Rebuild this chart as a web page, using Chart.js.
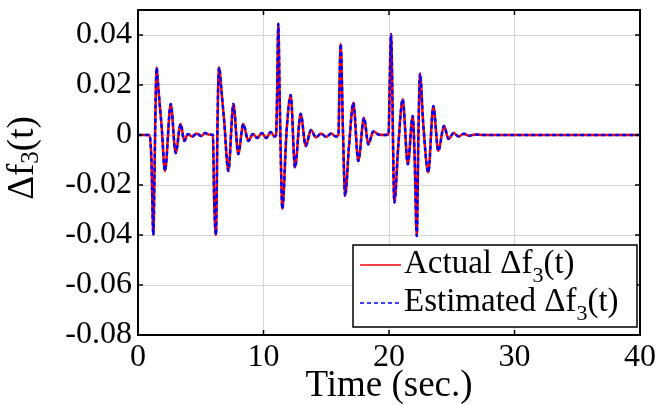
<!DOCTYPE html>
<html>
<head>
<meta charset="utf-8">
<script src="https://cdn.jsdelivr.net/npm/chart.js@4.4.1/dist/chart.umd.min.js"></script>
<style>
  html, body { margin: 0; padding: 0; background: #fff; }
  #wrap { width: 657px; height: 405px; }
</style>
</head>
<body>
<div id="wrap"><canvas id="myChart" width="657" height="405"></canvas></div>
<script>
// values
const timeSec = [
    0, 0.92, 1.07, 1.22, 1.33, 1.42, 1.49, 1.60, 1.89, 2.15, 2.61, 3.00, 3.40, 3.69, 3.98, 4.32, 4.68, 5.04, 5.34, 5.65,
    5.97, 6.07, 6.21, 6.34, 6.40, 6.48, 6.61, 6.86, 7.20, 7.60, 7.99, 8.39, 8.79, 9.15, 9.51, 9.86, 10.22, 10.57, 10.88,
    11.0, 11.08, 11.18, 11.29, 11.40, 11.50, 11.84, 12.17, 12.51, 12.96, 13.37, 13.78, 14.18, 14.59, 14.99, 15.40, 15.75,
    15.97, 16.05, 16.15, 16.33, 16.50, 16.82, 17.16, 17.55, 18.01, 18.35, 18.75, 19.16, 19.57,
    19.97, 20.05, 20.16, 20.43, 20.73, 21.09, 21.50, 21.89, 22.05, 22.21, 22.36, 22.47, 22.72, 23.13, 23.53, 23.93,
    24.38, 24.75, 25.15, 25.56, 25.96, 26.37, 26.88, 27.59, 40
]
const actualDf3 = [
    0, 0, -0.01, -0.04, -0.01, 0.018, 0.027, 0.02, 0.003, -0.0144, 0.0124, -0.0072, 0.0044, -0.0024, 0.0004, -0.0006, 0.0006, -0.0004, 0.0008, 0.0002,
    0, -0.026, -0.04, 0.006, 0.022, 0.027, 0.02, 0.006, -0.0144, 0.0124, -0.0076, 0.0044, -0.0024, 0.0004, -0.0012, 0.0008, -0.0012, 0.0012, -0.0006,
    0, 0.015, 0.0445, 0.015, -0.014, -0.0296, 0.0016, 0.016, -0.013, 0.0085, -0.0044, 0.002, -0.001, 0.0006, -0.0008, 0.0006, -0.0006,
    0, 0.019, 0.0365, 0.002, -0.0244, -0.004, 0.0129, -0.0104, 0.0069, -0.0037, 0.0014, 0.0002, 0,
    0.0003, 0.019, 0.0403, -0.027, -0.005, 0.0143, -0.0117, 0.0076, -0.01, -0.0404, 0.005, 0.0245, 0.005, -0.015, 0.0116, -0.0064,
    0.0036, -0.0016, 0.0008, -0.0006, 0.0005, -0.0003, 0.0002, 0, 0
]
// the estimate sits right on top of the actual signal
const estimatedDf3 = actualDf3.slice()

const xTickValues = [0, 10, 20, 30, 40]
const yTickValues = [-0.08, -0.06, -0.04, -0.02, 0, 0.02, 0.04]
const yTickLabels = ['-0.08', '-0.06', '-0.04', '-0.02', '0', '0.02', '0.04']

const SERIF = "'Liberation Serif', 'Times New Roman', serif"

function toPoints(xs, ys) {
    return xs.map((x, i) => ({ x: x, y: ys[i] }))
}

// draws text like "Actual Δf_3(t)" with the char after "_" as a subscript
function drawSubText(ctx, text, x, y, size, subSize, subDrop, measureOnly) {
    const parts = text.split('_')
    let cx = x
    ctx.font = size + 'px ' + SERIF
    if (!measureOnly) ctx.fillText(parts[0], cx, y)
    cx += ctx.measureText(parts[0]).width
    if (parts.length > 1) {
        const sub = parts[1].charAt(0)
        const rest = parts[1].slice(1)
        ctx.font = subSize + 'px ' + SERIF
        if (!measureOnly) ctx.fillText(sub, cx, y + subDrop)
        cx += ctx.measureText(sub).width
        ctx.font = size + 'px ' + SERIF
        if (!measureOnly) ctx.fillText(rest, cx, y)
        cx += ctx.measureText(rest).width
    }
    return cx - x
}

function noPadding(scale) {
    scale.paddingTop = 0
    scale.paddingBottom = 0
    scale.paddingLeft = 0
    scale.paddingRight = 0
}

const framePlugin = {
    id: 'frame',
    afterDatasetsDraw(chart) {
        const { ctx, chartArea: a, scales } = chart
        ctx.save()
        ctx.strokeStyle = '#000'
        ctx.lineWidth = 2
        ctx.strokeRect(a.left, a.top, a.right - a.left, a.bottom - a.top)
        ctx.lineWidth = 1.5
        ctx.beginPath()
        xTickValues.forEach(v => {
            const px = scales.x.getPixelForValue(v)
            ctx.moveTo(px, a.bottom); ctx.lineTo(px, a.bottom - 5)
            ctx.moveTo(px, a.top); ctx.lineTo(px, a.top + 5)
        })
        yTickValues.forEach(v => {
            const py = scales.y.getPixelForValue(v)
            ctx.moveTo(a.left, py); ctx.lineTo(a.left + 5, py)
            ctx.moveTo(a.right, py); ctx.lineTo(a.right - 5, py)
        })
        ctx.stroke()
        ctx.restore()
    }
}

const yTitlePlugin = {
    id: 'yTitle',
    afterDraw(chart) {
        const { ctx } = chart
        const text = 'Δf_3(t)'
        ctx.save()
        ctx.fillStyle = '#000'
        ctx.textBaseline = 'alphabetic'
        ctx.textAlign = 'left'
        ctx.translate(33, 158)
        ctx.rotate(-Math.PI / 2)
        const w = drawSubText(ctx, text, 0, 0, 37, 25, 5, true)
        drawSubText(ctx, text, -w / 2, 0, 37, 25, 5, false)
        ctx.restore()
    }
}

const boxLegendPlugin = {
    id: 'boxLegend',
    afterDraw(chart) {
        const { ctx } = chart
        const left = 353, top = 245, right = 637, bottom = 327
        ctx.save()
        ctx.fillStyle = '#fff'
        ctx.fillRect(left, top, right - left, bottom - top)
        ctx.strokeStyle = '#000'
        ctx.lineWidth = 1.5
        ctx.strokeRect(left, top, right - left, bottom - top)
        const rows = [273, 311]
        chart.data.datasets.forEach((ds, i) => {
            const base = rows[i]
            ctx.beginPath()
            ctx.strokeStyle = ds.borderColor
            ctx.lineWidth = 1.5
            ctx.setLineDash(ds.borderDash || [])
            ctx.moveTo(360, base - 8)
            ctx.lineTo(401, base - 8)
            ctx.stroke()
            ctx.setLineDash([])
            ctx.fillStyle = '#000'
            ctx.textBaseline = 'alphabetic'
            ctx.textAlign = 'left'
            drawSubText(ctx, ds.label, 404, base, 33, 22, 9, false)
        })
        ctx.restore()
    }
}

const ctx = document.getElementById('myChart')
const chartInstance = new Chart(ctx, {
    type: 'line',
    data: {
        datasets: [
            {
                label: 'Actual Δf_3(t)',
                data: toPoints(timeSec, actualDf3),
                borderColor: '#ff0000',
                borderWidth: 2.5,
                pointRadius: 0,
                cubicInterpolationMode: 'monotone',
                order: 1
            },
            {
                label: 'Estimated Δf_3(t)',
                data: toPoints(timeSec, estimatedDf3),
                borderColor: '#0000ff',
                borderWidth: 2.5,
                borderDash: [4, 3],
                pointRadius: 0,
                cubicInterpolationMode: 'monotone',
                order: 0
            }
        ]
    },
    options: {
        responsive: false,
        animation: false,
        devicePixelRatio: 1,
        layout: { padding: { left: 0, right: 17, top: 10, bottom: 0 } },
        plugins: {
            legend: { display: false },
            tooltip: { enabled: false }
        },
        scales: {
            x: {
                type: 'linear',
                min: 0,
                max: 40,
                afterBuildTicks: scale => { scale.ticks = xTickValues.map(v => ({ value: v })) },
                afterFit: scale => { scale.height = 70; noPadding(scale) },
                ticks: {
                    color: '#000',
                    font: { family: SERIF, size: 32 },
                    padding: 3,
                    maxRotation: 0
                },
                grid: { color: '#d6d6d6', drawTicks: false },
                border: { display: false },
                title: {
                    display: true,
                    text: 'Time (sec.)',
                    color: '#000',
                    font: { family: SERIF, size: 37, lineHeight: 1 },
                    padding: 0
                }
            },
            y: {
                min: -0.08,
                max: 0.05,
                afterBuildTicks: scale => { scale.ticks = yTickValues.map(v => ({ value: v })) },
                afterFit: scale => { scale.width = 138; noPadding(scale) },
                ticks: {
                    color: '#000',
                    font: { family: SERIF, size: 32 },
                    padding: 6,
                    callback: (value) => {
                        const i = yTickValues.indexOf(value)
                        return i >= 0 ? yTickLabels[i] : ''
                    }
                },
                grid: { color: '#d6d6d6', drawTicks: false },
                border: { display: false }
            }
        }
    },
    plugins: [framePlugin, yTitlePlugin, boxLegendPlugin]
})
</script>
</body>
</html>
